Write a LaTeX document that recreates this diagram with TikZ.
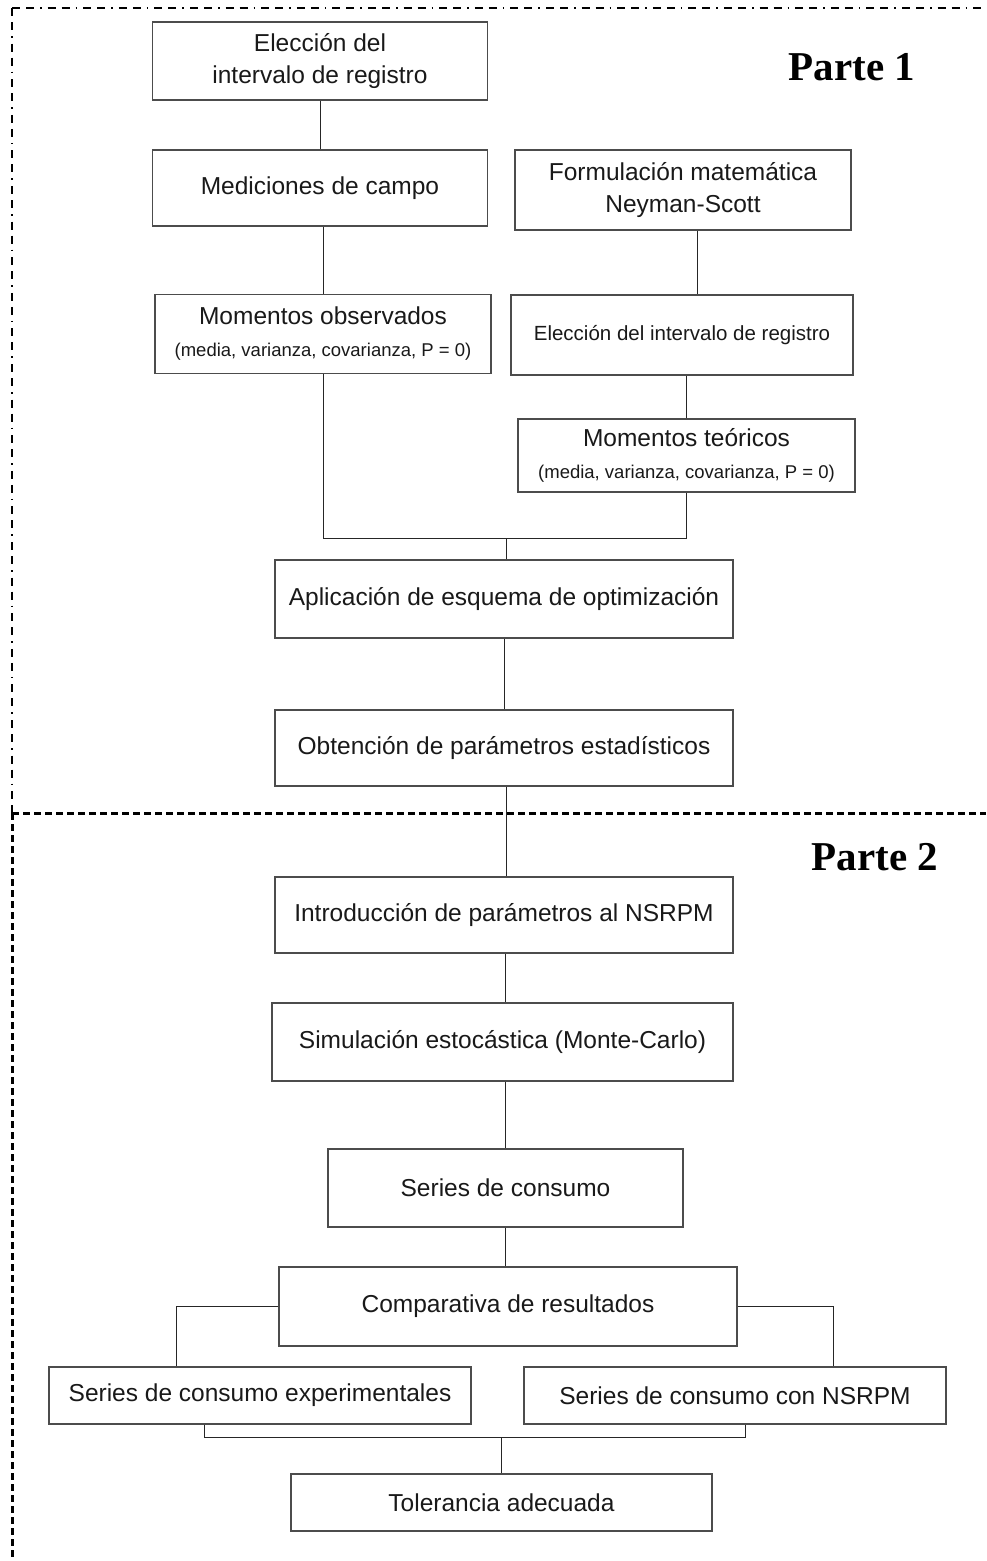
\documentclass[tikz,border=0pt]{standalone}
\usepackage{fontspec}
\setmainfont{Liberation Sans}
\newfontfamily\partefont{Liberation Serif}
\tikzset{
  caja/.style={draw=black!70, line width=1.2pt, text=black!90, align=center,
    font=\fontsize{24.5}{32}\selectfont, inner sep=2pt},
  linea/.style={draw=black!85, line width=1pt},
  parte/.style={anchor=base, font=\partefont\bfseries\fontsize{41}{45}\selectfont},
  rayapunto/.style={line width=1.3pt, dash pattern=on 8pt off 6pt on 8pt off 6pt on 1.6pt off 6pt},
  rayagruesa/.style={line width=3pt, dash pattern=on 7pt off 4pt}
}
\newcommand{\chico}[1]{{\fontsize{18.5}{30}\selectfont #1}}
\begin{document}
\begin{tikzpicture}[x=1pt,y=-1pt]
\useasboundingbox (0,0) rectangle (986,1561);

% Marcos
\draw[rayapunto] (12,8) -- (986,8);
\draw[rayapunto] (12,8) -- (12,813);
\draw[rayagruesa] (12,813) -- (986,813);
\draw[rayagruesa] (12,813) -- (12,1561);

% Titulos
\node[parte] (parte1) at (852,80) {Parte 1};
\node[parte] (parte2) at (875,870) {Parte 2};

% Parte 1
\node[caja, minimum width=335pt, minimum height=78pt] (eleccion) at (320,61) {Elección del\\ intervalo de registro};
\node[caja, minimum width=335pt, minimum height=76pt] (mediciones) at (320,188) {Mediciones de campo};
\node[caja, minimum width=336pt, minimum height=80pt] (formulacion) at (683,190) {Formulación matemática\\ Neyman-Scott};
\node[caja, minimum width=336pt, minimum height=79pt] (mobs) at (323,334) {Momentos observados\\ \chico{(media, varianza, covarianza, P = 0)}};
\node[caja, minimum width=342pt, minimum height=80pt, font=\fontsize{20.5}{24}\selectfont] (eleccion2) at (682,335) {Elección del intervalo de registro};
\node[caja, minimum width=337pt, minimum height=73pt] (mteo) at (686.5,455.5) {Momentos teóricos\\ \chico{(media, varianza, covarianza, P = 0)}};
\node[caja, minimum width=458pt, minimum height=78pt] (optim) at (504,599) {Aplicación de esquema de optimización};
\node[caja, minimum width=458pt, minimum height=76pt] (obtencion) at (504,748) {Obtención de parámetros estadísticos};

% Parte 2
\node[caja, minimum width=458pt, minimum height=76pt] (introduccion) at (504,915) {Introducción de parámetros al NSRPM};
\node[caja, minimum width=461pt, minimum height=78pt] (simulacion) at (502.5,1042) {Simulación estocástica (Monte-Carlo)};
\node[caja, minimum width=355pt, minimum height=78pt] (series) at (505.5,1188) {Series de consumo};
\node[caja, minimum width=458pt, minimum height=79pt] (comparativa) at (508,1306.5) {Comparativa de resultados};
\node[caja, minimum width=422pt, minimum height=57pt] (expers) at (260,1395.5) {Series de consumo experimentales};
\node[caja, minimum width=422pt, minimum height=57pt] (nsrpm) at (735,1395.5) {Series de consumo con NSRPM};
\node[caja, minimum width=421pt, minimum height=57pt] (tolerancia) at (501.5,1502.5) {Tolerancia adecuada};

% Puntos de union
\coordinate (union) at (506,538);
\coordinate (ramaizq) at (176,1306.5);
\coordinate (ramader) at (833,1306.5);
\coordinate (juntaizq) at (204,1437);
\coordinate (juntader) at (745,1437);

% Conectores
\draw[linea] (eleccion) -- (mediciones);
\draw[linea] (mobs.north) -- (mobs.north |- mediciones.south);
\draw[linea] ([xshift=14pt]formulacion.south) -- ([xshift=14pt]formulacion.south |- eleccion2.north);
\draw[linea] (mteo.north) -- (mteo.north |- eleccion2.south);
\draw[linea] (mobs.south) |- (mteo.south |- union) -- (mteo.south);
\draw[linea] (union) -- (union |- optim.north);
\draw[linea] (optim) -- (obtencion);
\draw[linea] (obtencion.south -| union) -- (introduccion.north -| union);
\draw[linea] (introduccion.south -| series) -- (simulacion.north -| series);
\draw[linea] (simulacion.south -| series) -- (series.north);
\draw[linea] (series.south) -- (comparativa.north -| series);
\draw[linea] (comparativa.west) -- (ramaizq) -- (ramaizq |- expers.north);
\draw[linea] (comparativa.east) -- (ramader) -- (ramader |- nsrpm.north);
\draw[linea] (juntaizq |- expers.south) -- (juntaizq) -- (juntader) -- (juntader |- nsrpm.south);
\draw[linea] (tolerancia.north |- juntaizq) -- (tolerancia.north);
\end{tikzpicture}
\end{document}
